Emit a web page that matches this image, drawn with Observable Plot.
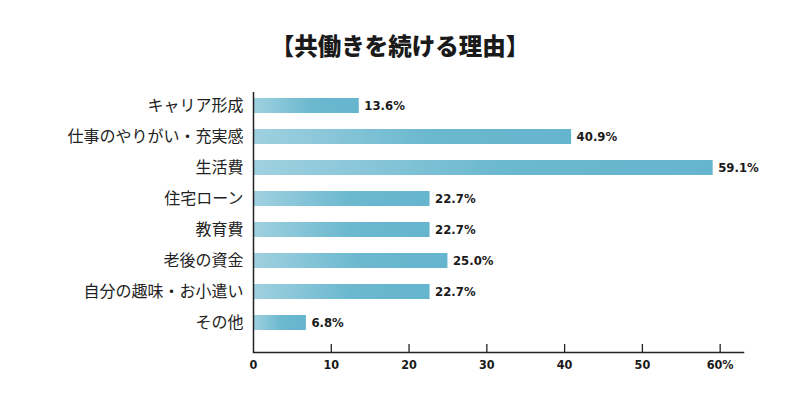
<!DOCTYPE html>
<html><head><meta charset="utf-8">
<script src="https://cdn.jsdelivr.net/npm/d3@7"></script>
<script src="https://cdn.jsdelivr.net/npm/@observablehq/plot@0.6"></script>
<style>
body{margin:0;background:#fff;}
#wrap{position:relative;width:800px;height:395px;}
#title{position:absolute;left:0;top:30px;width:800px;text-align:center;font-family:"Noto Sans CJK JP",sans-serif;font-weight:900;font-size:23.5px;line-height:30px;color:#1a1a1a;}
</style></head>
<body><div id="wrap"><div id="title">【共働きを続ける理由】</div></div>
<script>
const categories = ["キャリア形成","仕事のやりがい・充実感","生活費","住宅ローン","教育費","老後の資金","自分の趣味・お小遣い","その他"];
const values = [13.6, 40.9, 59.1, 22.7, 22.7, 25.0, 22.7, 6.8];
const xTicks = [0, 10, 20, 30, 40, 50, 60];

const data = categories.map((c, i) => ({cat: c, v: values[i]}));
const numFont = "'DejaVu Sans Condensed','DejaVu Sans',sans-serif";

const chart = Plot.plot({
  width: 800, height: 395,
  marginTop: 92, marginBottom: 43, marginLeft: 253, marginRight: 57,
  style: {fontFamily: "'Noto Sans CJK JP',sans-serif", background: "transparent", color: "#222"},
  x: {domain: [0, 63], axis: null, label: null},
  y: {domain: categories, paddingInner: 0.52, paddingOuter: 0.17, insetBottom: 16, axis: null, label: null},
  marks: [
    Plot.barX(data, {x: "v", y: "cat", fill: "url(#barGrad)"}),
    Plot.text(data, {x: "v", y: "cat", text: d => d.v.toFixed(1) + "%", textAnchor: "start", dx: 5,
      fontFamily: numFont, fontWeight: "bold", fontSize: 13, fill: "#1a1a1a"}),
    Plot.axisY({tickSize: 0, tickPadding: 10, fontSize: 16, fill: "#222", label: null}),
    Plot.ruleX([0], {stroke: "#222", strokeWidth: 1.5}),
    Plot.tickX(xTicks.slice(1), {x: d => d, stroke: "#222", strokeWidth: 1.3, insetTop: 252}),
    Plot.axisX({ticks: xTicks, tickSize: 0, tickPadding: 8, label: null, tickFormat: d => d === 60 ? "60%" : String(d),
      fontFamily: numFont, fontWeight: "bold", fontSize: 12.5, fill: "#1a1a1a"}),
    Plot.frame({anchor: "bottom", stroke: "#222", strokeWidth: 1.5})
  ]
});
// gradient definition for bars
const svg = d3.select(chart);
const grad = svg.insert("defs", ":first-child").append("linearGradient")
  .attr("id", "barGrad").attr("x1", "0%").attr("x2", "100%").attr("y1", "0%").attr("y2", "0%");
grad.append("stop").attr("offset", "0%").attr("stop-color", "#a0d1e0");
grad.append("stop").attr("offset", "55%").attr("stop-color", "#6bb8cf");
grad.append("stop").attr("offset", "100%").attr("stop-color", "#66b5ce");
document.getElementById("wrap").appendChild(chart);
chart.style.position = "absolute"; chart.style.left = "0"; chart.style.top = "0";
</script>
</body></html>
